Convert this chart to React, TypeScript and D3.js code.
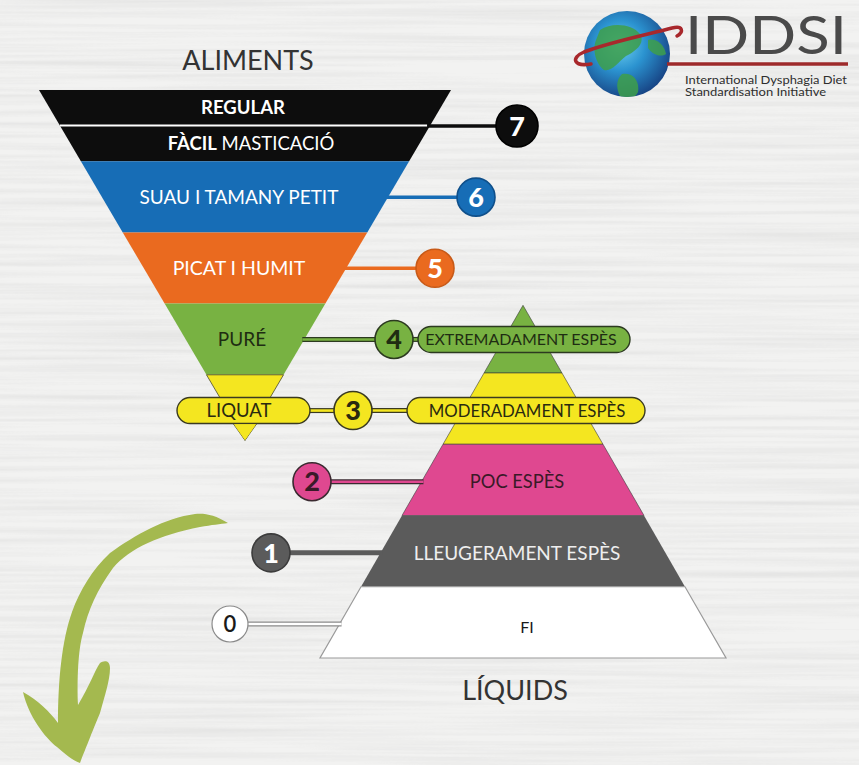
import React from "react";
import * as d3 from "d3";

const W = 859;
const H = 765;

// Levels and labels
const foodLevels = [7, 6, 5, 4, 3];
const foodLabels = [["REGULAR", "FÀCIL MASTICACIÓ"], ["SUAU I TAMANY PETIT"], ["PICAT I HUMIT"], ["PURÉ"], ["LIQUAT"]];
const drinkLevels = [4, 3, 2, 1, 0];
const drinkLabels = ["EXTREMADAMENT ESPÈS", "MODERADAMENT ESPÈS", "POC ESPÈS", "LLEUGERAMENT ESPÈS", "FI"];
const allLevels = [7, 6, 5, 4, 3, 2, 1, 0];
// index = level
const levelColors = ["#ffffff", "#5b5b5b", "#df4890", "#f4e620", "#78b242", "#ea6a1f", "#176db6", "#0d0d0d"];
const levelTextColors = ["#1a1a1a", "#ffffff", "#3a1a28", "#2a2a10", "#1f2d12", "#ffffff", "#ffffff", "#ffffff"];
const levelStroke = ["#8a8a8a", "#3c3c3c", "#3a2a30", "#3a3a20", "#2c3a20", "#c85a18", "#0f4f8a", "#000000"];
const titles = ["ALIMENTS", "LÍQUIDS"];
const logoTitle = "IDDSI";
const logoSub = ["International Dysphagia Diet", "Standardisation Initiative"];

const FONT = "Lato, 'Open Sans', sans-serif";

export default function App() {
  // food (inverted) funnel
  const yF = d3.scaleLinear().domain([8, 3]).range([90, 446]);
  const fApex = yF(3.08);
  const fCx = 245;
  const hwF = d3.scaleLinear().domain([yF(8), fApex]).range([206, 0]);
  // drinks pyramid
  const yD = d3.scaleLinear().domain([4, 0]).range([373, 658]);
  const dApex = yD(4.95);
  const dCx = 523;
  const hwD = d3.scaleLinear().domain([dApex, yD(0)]).range([0, 203]);
  // level circles
  const cxC = d3.scaleLinear().domain([0, 7]).range([230, 517]);
  const rowY = d3.scaleLinear().domain([7, 0]).range([126, 624]);

  const line = d3.line<[number, number]>();

  const foodBand = (L: number) => {
    const y0 = yF(L + 1);
    const y1 = L === 3 ? fApex : yF(L);
    return line([
      [fCx - hwF(y0), y0],
      [fCx + hwF(y0), y0],
      [fCx + hwF(y1), y1],
      [fCx - hwF(y1), y1],
    ]) + "Z";
  };
  const drinkBand = (L: number) => {
    const y0 = L === 4 ? dApex : yD(L + 1);
    const y1 = yD(L);
    return line([
      [dCx - hwD(y0), y0],
      [dCx + hwD(y0), y0],
      [dCx + hwD(y1), y1],
      [dCx - hwD(y1), y1],
    ]) + "Z";
  };

  const sepY = (yF(8) + yF(7)) / 2;
  const circleR = (L: number) => (L === 7 ? 21 : L === 0 ? 18 : 19);

  // pills
  const pillH = 26;
  const pills = [
    { L: 3, x0: 177, x1: 310, text: foodLabels[4][0], size: 18.5, cx: 239 },
    { L: 4, x0: 418, x1: 630, text: drinkLabels[0], size: 16, cx: 521 },
    { L: 3, x0: 407, x1: 645, text: drinkLabels[1], size: 16.8, cx: 527 },
  ];

  // connectors
  const connectors: { L: number; pts: [number, number][] }[] = [];
  [7, 6, 5, 4].forEach((L) => {
    const y = rowY(L);
    connectors.push({ L, pts: [[fCx + hwF(y) - 2, y], [cxC(L) - circleR(L), y]] });
  });
  connectors.push({ L: 4, pts: [[cxC(4) + circleR(4), rowY(4)], [420, rowY(4)]] });
  connectors.push({ L: 3, pts: [[308, rowY(3)], [cxC(3) - circleR(3), rowY(3)]] });
  connectors.push({ L: 3, pts: [[cxC(3) + circleR(3), rowY(3)], [409, rowY(3)]] });
  [2, 1, 0].forEach((L) => {
    const y = rowY(L);
    connectors.push({ L, pts: [[cxC(L) + circleR(L), y], [dCx - hwD(y) + 2, y]] });
  });

  // arrow shape (hand drawn green arrow)
  const arrowPath =
    "M 228,523 C 215,515 205,513 195,514 C 165,518 135,535 110,553 " +
    "C 92,570 80,590 72,612 C 62,640 58,680 58,723 " +
    "C 50,712 38,700 23,692 C 28,715 45,738 57,747 C 65,754 72,760 80,763 " +
    "C 85,750 95,725 100,713 C 105,695 110,680 110,668 C 110,660 104,660 100,663 " +
    "C 94,672 90,685 78,705 " +
    "C 77,680 78,650 83,633 C 88,610 97,590 113,568 C 130,548 160,535 200,527 C 212,525 220,524 228,523 Z";

  return (
    <svg width={W} height={H} viewBox={`0 0 ${W} ${H}`} style={{ position: "absolute", left: 0, top: 0, display: "block" }}>
      <defs>
        <filter id="grain" x="0" y="0" width="100%" height="100%">
          <feTurbulence type="fractalNoise" baseFrequency="0.003 0.18" numOctaves="3" seed="4" />
          <feColorMatrix type="matrix" values="0 0 0 0 0.55  0 0 0 0 0.55  0 0 0 0 0.55  0 0 0 -1.6 1.0" />
        </filter>
        <radialGradient id="globe" cx="42%" cy="40%" r="65%">
          <stop offset="0%" stopColor="#6fd0f0" />
          <stop offset="45%" stopColor="#2b93d0" />
          <stop offset="100%" stopColor="#163f80" />
        </radialGradient>
        <clipPath id="globeClip">
          <circle cx={627} cy={54} r={43} />
        </clipPath>
      </defs>

      {/* background */}
      <rect x={0} y={0} width={W} height={H} fill="#f2f2f1" />
      <rect x={0} y={0} width={W} height={H} filter="url(#grain)" opacity={0.35} />

      {/* green arrow */}
      <path d={arrowPath} fill="#a4b94f" />

      {/* food funnel */}
      {foodLevels.map((L) => (
        <path key={"f" + L} d={foodBand(L)} fill={levelColors[L]} stroke={L === 3 ? "#4a4a2a" : "none"} strokeWidth={L === 3 ? 0.8 : 0} />
      ))}
      <line x1={fCx - hwF(sepY)} x2={fCx + hwF(sepY) - 3} y1={sepY} y2={sepY} stroke="#ffffff" strokeWidth={2} />

      {/* drinks pyramid */}
      {drinkLevels.map((L) => (
        <path key={"d" + L} d={drinkBand(L)} fill={levelColors[L]}
          stroke={L === 0 ? "#9a9a9a" : L === 1 ? "none" : "#3a3a3a"} strokeWidth={L === 0 ? 1.2 : L === 1 ? 0 : 0.6} />
      ))}

      {/* connectors */}
      {connectors.map((c, i) => {
        const d = line(c.pts) || "";
        const L = c.L;
        const outlined = L === 4 || L === 3 || L === 2 || L === 0;
        return (
          <g key={"c" + i}>
            {outlined && <path d={d} stroke={levelStroke[L]} strokeWidth={5} fill="none" />}
            <path d={d} stroke={levelColors[L]} strokeWidth={outlined ? 2.6 : L === 1 ? 5 : 3.5} fill="none" />
          </g>
        );
      })}

      {/* pills */}
      {pills.map((p, i) => {
        const y = rowY(p.L);
        return (
          <g key={"p" + i}>
            {p.L === 3 && p.x0 < 300 && (
              <path d={line([[fCx - 14, y + 10], [fCx + 14, y + 10], [fCx, fApex]]) + "Z"} fill={levelColors[3]} stroke="#4a4a2a" strokeWidth={0.8} />
            )}
            <rect x={p.x0} y={y - pillH / 2} width={p.x1 - p.x0} height={pillH} rx={pillH / 2}
              fill={levelColors[p.L]} stroke={levelStroke[p.L]} strokeWidth={1.4} />
            <text x={p.cx} y={y} dy="0.36em" textAnchor="middle" fontFamily={FONT}
              fontSize={p.size} fill={levelTextColors[p.L]}>{p.text}</text>
          </g>
        );
      })}
      {/* re-draw funnel tip below pill */}
      <path d={line([[fCx - 11, rowY(3) + pillH / 2 + 0.7], [fCx + 11, rowY(3) + pillH / 2 + 0.7], [fCx, fApex]]) + "Z"} fill={levelColors[3]} />

      {/* circles */}
      {allLevels.map((L) => (
        <g key={"n" + L}>
          <circle cx={cxC(L)} cy={rowY(L)} r={circleR(L)} fill={levelColors[L]} stroke={levelStroke[L]} strokeWidth={L === 0 ? 1.2 : 1.6} />
          <text x={cxC(L)} y={rowY(L)} dy="0.36em" textAnchor="middle" fontFamily={FONT} fontWeight={L === 0 ? 600 : 900}
            fontSize={L === 0 ? 22 : 27} fill={levelTextColors[L]}>{L}</text>
        </g>
      ))}

      {/* food labels */}
      <text x={fCx - 2} y={(yF(8) + sepY) / 2} dy="0.36em" textAnchor="middle" fontFamily={FONT} fontWeight={700} fontSize={18.5} fill="#fff">{foodLabels[0][0]}</text>
      <text x={fCx + 6} y={(sepY + yF(7)) / 2} dy="0.36em" textAnchor="middle" fontFamily={FONT} fontSize={18.5} fill="#fff">
        <tspan fontWeight={700}>{foodLabels[0][1].split(" ")[0]}</tspan>
        <tspan> {foodLabels[0][1].split(" ")[1]}</tspan>
      </text>
      {[6, 5, 4].map((L, i) => (
        <text key={"fl" + L} x={L === 4 ? 242 : 239} y={rowY(L)} dy="0.36em" textAnchor="middle" fontFamily={FONT}
          fontSize={L === 5 ? 19.5 : 19} fill={levelTextColors[L]}>{foodLabels[i + 1][0]}</text>
      ))}

      {/* drink labels */}
      {[2, 1, 0].map((L) => (
        <text key={"dl" + L} x={L === 0 ? 527 : 517} y={rowY(L) + (L === 0 ? 3 : 0)} dy="0.36em" textAnchor="middle" fontFamily={FONT}
          fontSize={L === 0 ? 16 : L === 2 ? 18.3 : 19} fill={L === 1 ? "#eeeeee" : levelTextColors[L]}>{drinkLabels[4 - L]}</text>
      ))}

      {/* titles */}
      <text x={248} y={70} textAnchor="middle" fontFamily={FONT} fontSize={27} fill="#333">{titles[0]}</text>
      <text x={515} y={700} textAnchor="middle" fontFamily={FONT} fontSize={27} fill="#333">{titles[1]}</text>

      {/* logo */}
      <circle cx={627} cy={54} r={43} fill="url(#globe)" />
      <g clipPath="url(#globeClip)" fill="#3f9f4a" opacity={0.85}>
        <path d="M 600,30 C 612,22 632,24 640,34 C 646,44 634,52 626,56 C 618,62 612,72 604,70 C 596,64 592,50 596,40 Z" />
        <path d="M 622,74 C 632,72 640,80 638,92 C 634,100 626,102 620,96 C 616,88 616,80 622,74 Z" />
        <path d="M 648,40 C 656,38 664,44 666,54 C 660,58 652,54 648,48 Z" />
      </g>
      <path d="M 591,64 C 574,67 570,58 584,52 C 610,42 650,34 672,28 C 683,25 684,32 677,36" fill="none" stroke="#a8282c" strokeWidth={3.5} strokeLinecap="round" />
      <line x1={667} x2={848} y1={64} y2={64} stroke="#9e2a2b" strokeWidth={3.5} />
      <text x={685} y={54} fontFamily={FONT} fontSize={53} fill="#4a4a4a" textLength={162} lengthAdjust="spacingAndGlyphs">{logoTitle}</text>
      <text x={685} y={84} fontFamily={FONT} fontSize={11.5} fill="#2e2e2e" textLength={162} lengthAdjust="spacingAndGlyphs">{logoSub[0]}</text>
      <text x={685} y={96} fontFamily={FONT} fontSize={11.5} fill="#2e2e2e" textLength={141} lengthAdjust="spacingAndGlyphs">{logoSub[1]}</text>
    </svg>
  );
}
